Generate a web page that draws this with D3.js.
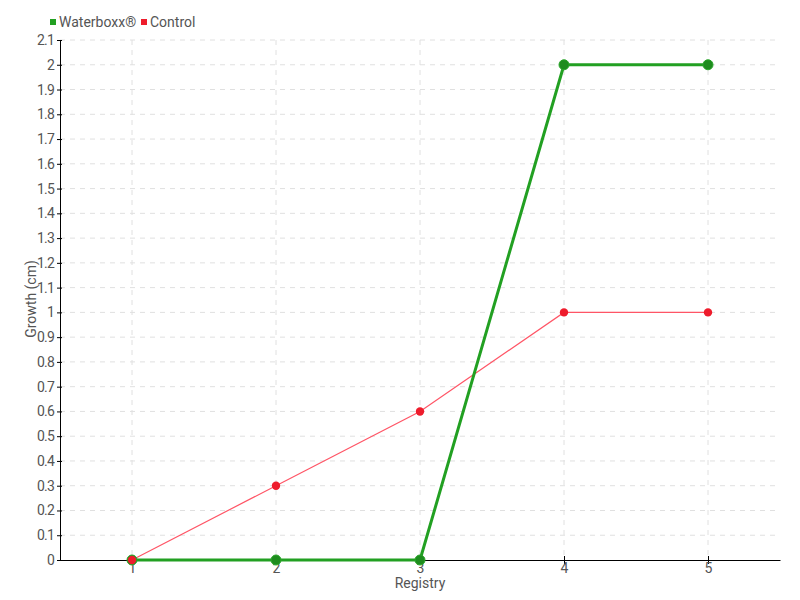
<!DOCTYPE html>
<html><head><meta charset="utf-8">
<script src="https://cdn.jsdelivr.net/npm/d3@7"></script>
<style>
body{margin:0;background:#fff;}
text{font-family:Roboto,"DejaVu Sans",sans-serif;fill:#555;}
</style></head>
<body><svg id="c" width="800" height="600"></svg>
<script>
const registry = [1, 2, 3, 4, 5];
const waterboxx = [0, 0, 0, 2, 2];
const control = [0, 0.3, 0.6, 1, 1];
const yTicks = d3.range(0, 22).map(i => +(i / 10).toFixed(1));
const seriesNames = ["Waterboxx®", "Control"];

const svg = d3.select("#c");
const mLeft = 60, mRight = 780, mTop = 40, mBottom = 560;
const x = d3.scaleLinear().domain([0.5, 5.5]).range([mLeft, mRight]);
const y = d3.scaleLinear().domain([0, 2.1]).range([mBottom, mTop]);

// grid
svg.append("g").selectAll("line").data(yTicks.slice(1)).join("line")
  .attr("x1", mLeft).attr("x2", mRight).attr("y1", d => y(d)).attr("y2", d => y(d))
  .attr("stroke", "#e0e0e0").attr("stroke-dasharray", "5,5");
svg.append("g").selectAll("line").data(registry).join("line")
  .attr("x1", d => x(d)).attr("x2", d => x(d)).attr("y1", mTop).attr("y2", mBottom)
  .attr("stroke", "#e0e0e0").attr("stroke-dasharray", "5,5");

// axes
const yAxis = svg.append("g").attr("transform", `translate(${mLeft},0)`)
  .call(d3.axisLeft(y).tickValues(yTicks).tickFormat(d => String(d)).tickSizeInner(4).tickSizeOuter(0).tickPadding(2));
yAxis.selectAll(".tick line").attr("x1", 2).attr("x2", -3).attr("stroke", "#000");
yAxis.select(".domain").attr("stroke", "#000");
yAxis.selectAll("text").attr("font-size", 14).attr("fill", "#555").attr("letter-spacing", -0.8).style("font-family", null);

const xAxis = svg.append("g").attr("transform", `translate(0,${mBottom})`)
  .call(d3.axisBottom(x).tickValues(registry).tickFormat(d3.format("d")).tickSizeInner(5).tickSizeOuter(0).tickPadding(-2));
xAxis.selectAll(".tick line").attr("y1", -4).attr("y2", 4).attr("stroke", "#000");
xAxis.select(".domain").attr("stroke", "#000");
xAxis.selectAll("text").attr("font-size", 14).attr("fill", "#555").style("font-family", null);

svg.append("text").attr("x", 420).attr("y", 588).attr("text-anchor", "middle").attr("font-size", 14).text("Registry");
svg.append("text").attr("transform", "translate(36,299) rotate(-90)").attr("text-anchor", "middle").attr("font-size", 14).text("Growth (cm)");

const line = d3.line().x((d, i) => x(registry[i])).y(d => y(d));

svg.append("path").datum(control).attr("d", line).attr("fill", "none").attr("stroke", "#ff5566").attr("stroke-width", 1.2);
svg.append("path").datum(waterboxx).attr("d", line).attr("fill", "none").attr("stroke", "#22a022").attr("stroke-width", 3);

svg.append("g").selectAll("circle").data(waterboxx).join("circle")
  .attr("cx", (d, i) => x(registry[i])).attr("cy", d => y(d)).attr("r", 5)
  .attr("fill", "#1e8c1e").attr("stroke", "#2aa62a").attr("stroke-width", 1);
svg.append("g").selectAll("circle").data(control).join("circle")
  .attr("cx", (d, i) => x(registry[i])).attr("cy", d => y(d)).attr("r", 4.2)
  .attr("fill", "#ee1c2c");

// legend
const legColors = ["#22a022", "#ee1c2c"];
const legX = [50, 141];
seriesNames.forEach((n, i) => {
  svg.append("rect").attr("x", legX[i]).attr("y", 19).attr("width", 6).attr("height", 6).attr("fill", legColors[i]);
  svg.append("text").attr("x", legX[i] + 9).attr("y", 27).attr("font-size", 14).text(n);
});
</script></body></html>
